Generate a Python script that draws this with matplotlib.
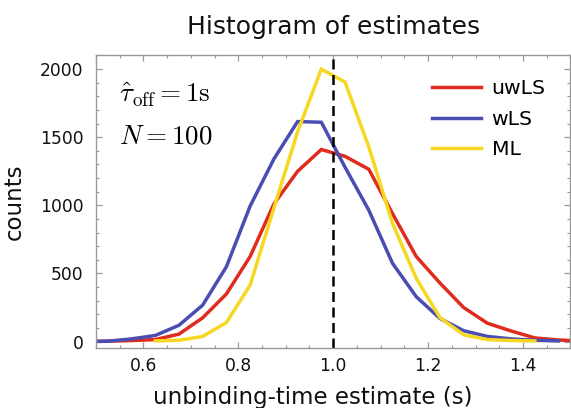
import numpy as np
import matplotlib
matplotlib.use("Agg")
import matplotlib.pyplot as plt

plt.rcParams['font.family'] = ['DejaVu Sans']
plt.rcParams['mathtext.fontset'] = 'cm'

# bin centres (s)
x_all = [0.475, 0.525, 0.575, 0.625, 0.675, 0.725, 0.775, 0.825, 0.875, 0.925,
         0.975, 1.025, 1.075, 1.125, 1.175, 1.225, 1.275, 1.325, 1.375, 1.425,
         1.475, 1.525]
uwLS = [1, 3, 8, 15, 55, 175, 350, 625, 1010, 1250, 1410, 1360, 1265, 940, 625,
        430, 250, 135, 78, 27, 12, 4]
x_wls = x_all[:21]
wLS = [1, 3, 20, 45, 120, 268, 550, 995, 1340, 1615, 1610, 1280, 965, 575, 330,
       170, 80, 38, 20, 10, 5]
x_ml = x_all[3:20]
ML = [5, 10, 38, 140, 415, 980, 1540, 2000, 1905, 1430, 868, 465, 176, 50, 15,
      8, 5]
labels = ["uwLS", "wLS", "ML"]
colors = ["#E02C1E", "#4A4DB2", "#F6D822"]
true_value = 1.0

fig = plt.figure(figsize=(5.71, 4.08), dpi=100)
ax = fig.add_axes([0.168, 0.148, 0.831, 0.717])

ax.plot(x_all, uwLS, color=colors[0], lw=2.5, label=labels[0], solid_joinstyle='miter')
ax.plot(x_wls, wLS, color=colors[1], lw=2.5, label=labels[1], solid_joinstyle='miter')
ax.plot(x_ml, ML, color=colors[2], lw=2.5, label=labels[2], solid_joinstyle='miter')
ax.axvline(true_value, color='black', lw=1.8, dashes=(4, 2.2))

ax.set_xlim(0.5, 1.5)
ax.set_ylim(-44, 2103)
ax.set_xticks([0.6, 0.8, 1.0, 1.2, 1.4])
ax.set_xticklabels(["0.6", "0.8", "1.0", "1.2", "1.4"])
ax.set_xticks(np.arange(0.5, 1.501, 0.05), minor=True)
ax.set_yticks([0, 500, 1000, 1500, 2000])
ax.set_yticks(np.arange(0, 2101, 100), minor=True)

for s in ax.spines.values():
    s.set_color('#999999')
    s.set_linewidth(1.0)
ax.tick_params(which='both', direction='in', top=True, right=True,
               color='#999999', labelsize=12.3, labelcolor='#111111')
ax.tick_params(which='major', length=4, width=0.9, pad=7)
ax.tick_params(which='minor', length=2.2, width=0.8)
ax.tick_params(axis='y', which='major', pad=9)

ax.set_title("Histogram of estimates", fontsize=18, pad=15, color='#111111')
ax.set_xlabel("unbinding-time estimate (s)", fontsize=16.5, color='#111111')
ax.xaxis.set_label_coords(0.456, -0.132)
ax.set_ylabel("counts", fontsize=16.5, color='#111111')
ax.yaxis.set_label_coords(-0.148, 0.5)

ax.text(0.048, 0.863, r"$\hat{\tau}_{\mathrm{off}}=1\mathrm{s}$", transform=ax.transAxes,
        fontsize=19.5, va='center', ha='left')
ax.text(0.048, 0.723, r"$N=100$", transform=ax.transAxes,
        fontsize=19.5, va='center', ha='left')

leg = ax.legend(loc='upper left', frameon=False, fontsize=14.7,
                handlelength=2.4, handletextpad=0.5, labelspacing=0.56,
                borderpad=0, borderaxespad=0,
                bbox_to_anchor=(0.709, 0.917))

fig.savefig("out.png", dpi=100)
